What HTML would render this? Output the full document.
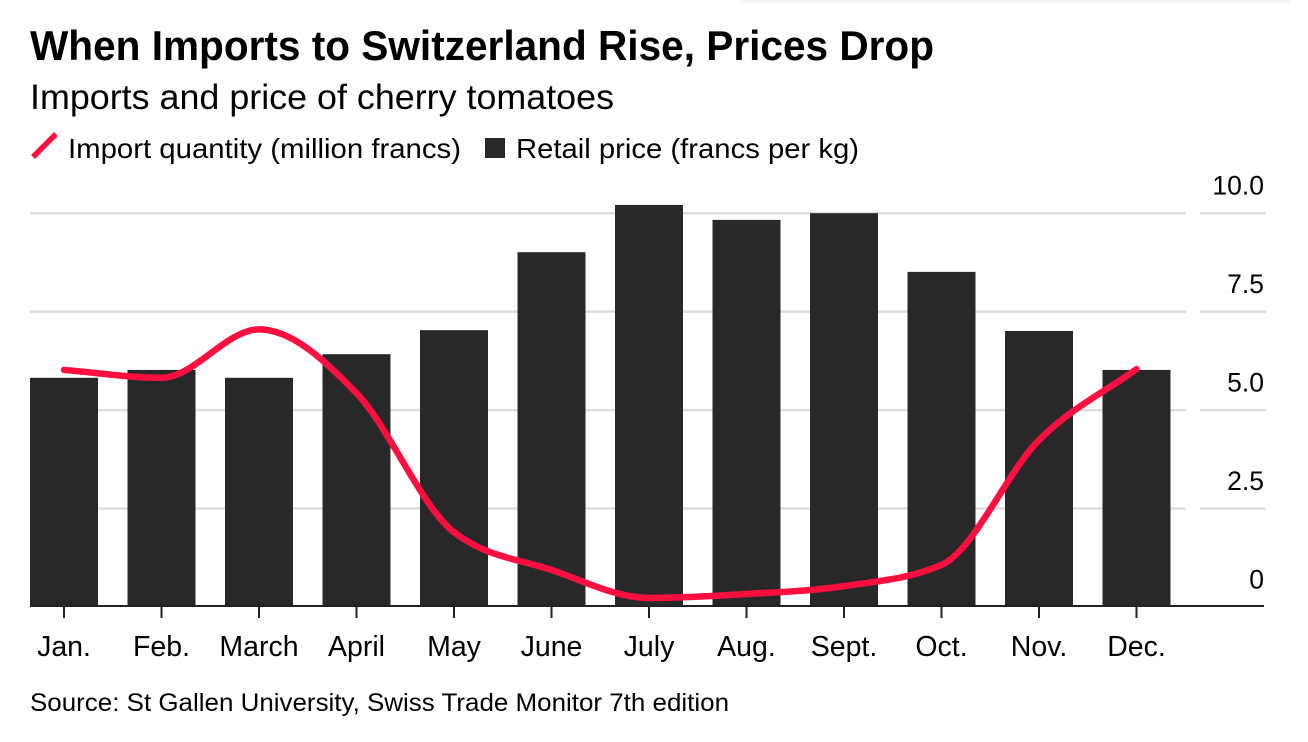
<!DOCTYPE html>
<html lang="en">
<head>
<meta charset="utf-8">
<title>When Imports to Switzerland Rise, Prices Drop</title>
<style>
html,body{margin:0;padding:0;background:#fff;width:1308px;height:742px;overflow:hidden}
svg{display:block}
text{font-family:"Liberation Sans",sans-serif;fill:#000}
</style>
</head>
<body>
<svg id="chart" xmlns="http://www.w3.org/2000/svg" width="1308" height="742" viewBox="0 0 1308 742">
  <rect x="740" y="0" width="550" height="3" fill="#f6f6f6"/>
  <text x="30" y="60" font-size="42" font-weight="700" textLength="904" lengthAdjust="spacingAndGlyphs">When Imports to Switzerland Rise, Prices Drop</text>
  <text x="30" y="109" font-size="35" textLength="584" lengthAdjust="spacingAndGlyphs">Imports and price of cherry tomatoes</text>
  <line x1="33" y1="157" x2="56" y2="134" stroke="#ff0f3f" stroke-width="5.5"/>
  <text x="68" y="158" font-size="28" textLength="393" lengthAdjust="spacingAndGlyphs">Import quantity (million francs)</text>
  <rect x="485" y="138" width="20" height="20" fill="#282828"/>
  <text x="516" y="158" font-size="28" textLength="343" lengthAdjust="spacingAndGlyphs">Retail price (francs per kg)</text>
  <g id="grid"></g>
  <g id="bars"></g>
  <g id="axis"></g>
  <path id="importLine" fill="none" stroke="#ff0f3f" stroke-width="6.5" stroke-linecap="round" stroke-linejoin="round"></path>
  <text x="30" y="711" font-size="25" textLength="699" lengthAdjust="spacingAndGlyphs">Source: St Gallen University, Swiss Trade Monitor 7th edition</text>
</svg>
<script>
const months = ["Jan.","Feb.","March","April","May","June","July","Aug.","Sept.","Oct.","Nov.","Dec."];
const retailPrice = [5.82,6.02,5.82,6.42,7.03,9.01,10.21,9.83,10.0,8.51,7.01,6.02];
const importQuantity = [6.02,5.82,7.05,5.43,1.90,0.94,0.23,0.33,0.53,1.07,4.24,6.04];
const yTicks = [0,2.5,5,7.5,10];
const yTickLabels = ["0","2.5","5.0","7.5","10.0"];

const NS = "http://www.w3.org/2000/svg";
const xScale = i => 64 + i * 97.5;
const yScale = v => 607 - v * 39.38;
const barWidth = 68;

function make(tag, parent, attrs, content) {
  const el = document.createElementNS(NS, tag);
  for (const k in attrs) el.setAttribute(k, attrs[k]);
  if (content !== undefined) el.textContent = content;
  parent.appendChild(el);
  return el;
}

const grid = document.getElementById("grid");
const bars = document.getElementById("bars");
const axis = document.getElementById("axis");

yTicks.forEach((t, i) => {
  const y = yScale(t);
  if (t !== 0) {
    const g1 = make("line", grid, {x1: 30, x2: 1186, y1: y, y2: y, stroke: "#dedede", "stroke-width": 2.5});
    
    
    const g2 = make("line", grid, {x1: 1200, x2: 1266, y1: y, y2: y, stroke: "#dedede", "stroke-width": 2.5});
    
    
  }
  const lab = make("text", axis, {x: 1264, y: y - 18.5, "font-size": 26.5, "text-anchor": "end"}, yTickLabels[i]);
  
  
});

retailPrice.forEach((v, i) => {
  const r = make("rect", bars, {x: xScale(i) - barWidth / 2, y: yScale(v), width: barWidth, height: yScale(0) - yScale(v) - 1, fill: "#282828"});
  
  
});

const baseY = yScale(0) - 1;
const base = make("line", axis, {x1: 30, x2: 1264, y1: baseY, y2: baseY, stroke: "#222", "stroke-width": 2});



months.forEach((m, i) => {
  const x = xScale(i);
  const tick = make("line", axis, {x1: x, x2: x, y1: baseY, y2: baseY + 12, stroke: "#222", "stroke-width": 2});
  
  
  const lab = make("text", axis, {x: x, y: 656, "font-size": 28.5, "text-anchor": "middle"}, m);
  
  
});

// Monotone cubic interpolation (Steffen / d3 monotoneX style tangents)
function monotonePath(xs, ys) {
  const n = xs.length, d = [], m = [];
  for (let i = 0; i < n - 1; i++) d.push((ys[i + 1] - ys[i]) / (xs[i + 1] - xs[i]));
  m[0] = d[0];
  m[n - 1] = d[n - 2];
  for (let i = 1; i < n - 1; i++) {
    if (d[i - 1] * d[i] <= 0) m[i] = 0;
    else {
      const s = d[i] > 0 ? 1 : -1;
      m[i] = s * Math.min(2 * Math.abs(d[i - 1]), 2 * Math.abs(d[i]), Math.abs(d[i - 1] + d[i]) / 2);
    }
  }
  let p = "M" + xs[0] + "," + ys[0];
  for (let i = 0; i < n - 1; i++) {
    const h = (xs[i + 1] - xs[i]) / 3;
    p += "C" + (xs[i] + h) + "," + (ys[i] + m[i] * h) + " " +
         (xs[i + 1] - h) + "," + (ys[i + 1] - m[i + 1] * h) + " " +
         xs[i + 1] + "," + ys[i + 1];
  }
  return p;
}
document.getElementById("importLine").setAttribute("d",
  monotonePath(importQuantity.map((_, i) => xScale(i)), importQuantity.map(yScale)));
</script>
</body>
</html>
